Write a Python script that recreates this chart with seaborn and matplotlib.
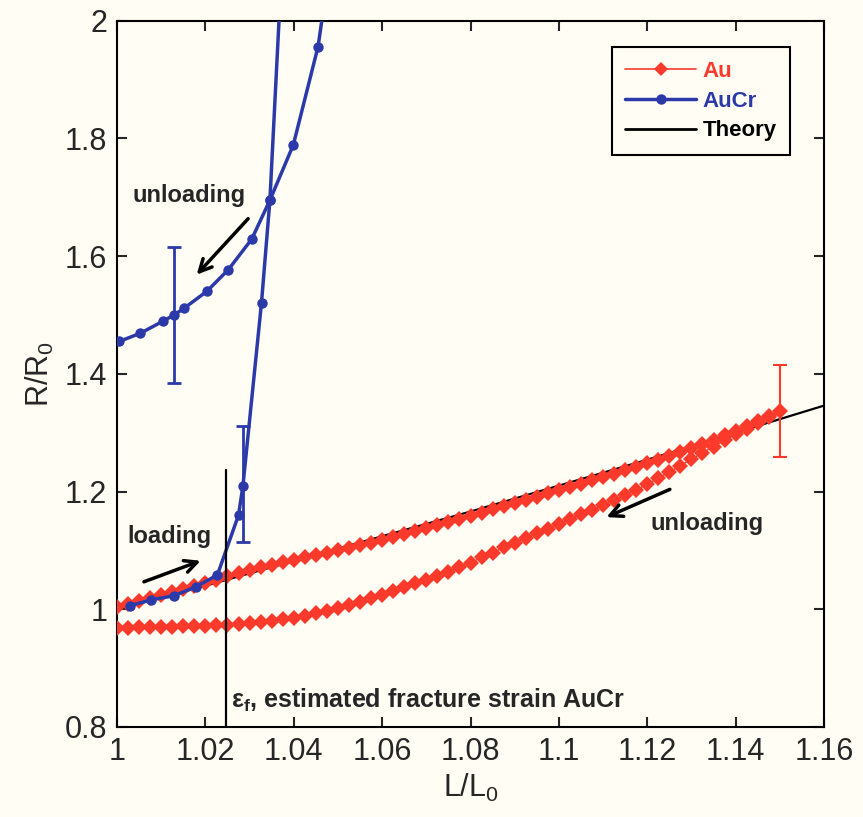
import numpy as np
import pandas as pd
import seaborn as sns
import matplotlib.pyplot as plt

# Au film: strain steps shared by the loading and unloading branch
au_strain = [1.0000, 1.0025, 1.0050, 1.0075, 1.0100, 1.0125, 1.0150, 1.0175, 1.0200, 1.0225,
             1.0250, 1.0275, 1.0300, 1.0325, 1.0350, 1.0375, 1.0400, 1.0425, 1.0450, 1.0475,
             1.0500, 1.0525, 1.0550, 1.0575, 1.0600, 1.0625, 1.0650, 1.0675, 1.0700, 1.0725,
             1.0750, 1.0775, 1.0800, 1.0825, 1.0850, 1.0875, 1.0900, 1.0925, 1.0950, 1.0975,
             1.1000, 1.1025, 1.1050, 1.1075, 1.1100, 1.1125, 1.1150, 1.1175, 1.1200, 1.1225,
             1.1250, 1.1275, 1.1300, 1.1325, 1.1350, 1.1375, 1.1400, 1.1425, 1.1450, 1.1475,
             1.1500]
au_loading = [1.004, 1.009, 1.014, 1.019, 1.024, 1.029, 1.035, 1.040, 1.045, 1.050,
              1.056, 1.061, 1.066, 1.071, 1.075, 1.080, 1.084, 1.088, 1.092, 1.096,
              1.100, 1.104, 1.109, 1.113, 1.118, 1.123, 1.128, 1.133, 1.138, 1.143,
              1.148, 1.154, 1.159, 1.164, 1.170, 1.175, 1.180, 1.186, 1.191, 1.197,
              1.202, 1.208, 1.213, 1.219, 1.224, 1.230, 1.236, 1.242, 1.248, 1.254,
              1.261, 1.268, 1.274, 1.281, 1.288, 1.296, 1.303, 1.311, 1.319, 1.328,
              1.336]
au_unloading = [0.968, 0.968, 0.969, 0.969, 0.970, 0.970, 0.971, 0.971, 0.972, 0.973,
                0.974, 0.975, 0.976, 0.978, 0.980, 0.983, 0.985, 0.989, 0.993, 0.997,
                1.002, 1.008, 1.013, 1.019, 1.025, 1.031, 1.037, 1.044, 1.050, 1.057,
                1.064, 1.072, 1.079, 1.088, 1.096, 1.105, 1.113, 1.121, 1.129, 1.137,
                1.145, 1.153, 1.161, 1.169, 1.177, 1.186, 1.194, 1.203, 1.212, 1.223,
                1.233, 1.244, 1.255, 1.266, 1.276, 1.287, 1.297, 1.307, 1.317, 1.326,
                1.336]

# AuCr film
aucr_load_strain = [1.0029, 1.0078, 1.0129, 1.0178, 1.0227, 1.0275, 1.0285, 1.0327, 1.0346, 1.0372]
aucr_load_r = [1.006, 1.016, 1.023, 1.038, 1.058, 1.160, 1.210, 1.521, 1.695, 2.080]
aucr_unload_strain = [1.0475, 1.0455, 1.0399, 1.0346, 1.0305, 1.0252, 1.0203, 1.0151,
                      1.0129, 1.0103, 1.0053, 1.0005]
aucr_unload_r = [2.060, 1.956, 1.789, 1.695, 1.629, 1.577, 1.540, 1.511, 1.500, 1.489, 1.469, 1.455]

# theory curve
theory_strain = [1.00, 1.02, 1.04, 1.06, 1.08, 1.10, 1.12, 1.14, 1.16]
theory_r = [1.000, 1.040, 1.082, 1.124, 1.166, 1.210, 1.254, 1.300, 1.346]

# error bars
err_strain = [1.0129, 1.0286, 1.1500]
err_r = [1.500, 1.213, 1.337]
err_half = [0.115, 0.098, 0.078]

fracture_strain = 1.0246
fracture_top = 1.237

bg = '#fffdf4'
red = '#fc3a2c'
blue = '#2b3aa8'

sns.set_style('ticks')
plt.rcParams['font.family'] = ['Liberation Sans', 'DejaVu Sans']
plt.rcParams['mathtext.fontset'] = 'custom'
plt.rcParams['mathtext.rm'] = 'Liberation Sans'
plt.rcParams['mathtext.it'] = 'Liberation Sans:italic'
plt.rcParams['mathtext.bf'] = 'Liberation Sans:bold'
plt.rcParams['mathtext.default'] = 'regular'

fig = plt.figure(figsize=(8.63, 8.17), dpi=100, facecolor=bg)
ax = fig.add_axes([0.1356, 0.1102, 0.8192, 0.8645], facecolor=bg)

theory = pd.DataFrame({'strain': theory_strain, 'r': theory_r})
sns.lineplot(data=theory, x='strain', y='r', sort=False, estimator=None, color='black', lw=1.6,
             ax=ax, zorder=2)

# Au: loading out to 1.15 then back
au = pd.DataFrame({'strain': au_strain + au_strain[::-1][1:],
                   'r': au_loading + au_unloading[::-1][1:]})
sns.lineplot(data=au, x='strain', y='r', sort=False, estimator=None, color=red, lw=1,
             marker='D', markersize=8, markeredgewidth=0, ax=ax, zorder=3)

aucr = pd.DataFrame({'strain': aucr_load_strain + aucr_unload_strain,
                     'r': aucr_load_r + aucr_unload_r,
                     'branch': ['load'] * len(aucr_load_strain) + ['unload'] * len(aucr_unload_strain)})
for b, d in aucr.groupby('branch'):
    sns.lineplot(data=d, x='strain', y='r', sort=False, estimator=None, color=blue, lw=2.5,
                 marker='o', markersize=7.5, markeredgewidth=0, ax=ax, zorder=4)

for xs, ys, e, c in zip(err_strain, err_r, err_half, [blue, blue, red]):
    ax.errorbar(xs, ys, yerr=e, fmt='none', ecolor=c, elinewidth=2 if c == blue else 1.5,
                capsize=5, capthick=2 if c == blue else 1.5, zorder=5)

ax.plot([fracture_strain, fracture_strain], [0.8, fracture_top], color='black', lw=1.6, zorder=6)

ax.set_xlim(1, 1.16)
ax.set_ylim(0.8, 2)
ax.set_xticks([1, 1.02, 1.04, 1.06, 1.08, 1.1, 1.12, 1.14, 1.16])
ax.set_xticklabels(['1', '1.02', '1.04', '1.06', '1.08', '1.1', '1.12', '1.14', '1.16'])
ax.set_yticks([0.8, 1, 1.2, 1.4, 1.6, 1.8, 2])
ax.set_yticklabels(['0.8', '1', '1.2', '1.4', '1.6', '1.8', '2'])
ax.tick_params(direction='in', length=7, width=1.5, labelsize=22, top=True, right=True, pad=7)
for s in ax.spines.values():
    s.set_linewidth(1.5)
    s.set_color('black')
ax.set_xlabel('L/L$_0$', fontsize=22, labelpad=4)
ax.set_ylabel('R/R$_0$', fontsize=22, labelpad=6)

arrow = dict(arrowstyle='->', lw=2.5, color='black', mutation_scale=22)
ax.annotate('', xy=(1.0195, 1.084), xytext=(1.0055, 1.045), arrowprops=arrow)
ax.annotate('', xy=(1.0176, 1.565), xytext=(1.0301, 1.667), arrowprops=arrow)
ax.annotate('', xy=(1.1102, 1.1546), xytext=(1.1257, 1.2056), arrowprops=arrow)
ax.text(1.0119, 1.124, 'loading', fontsize=17, fontweight='bold', ha='center', va='center')
ax.text(1.0163, 1.703, 'unloading', fontsize=17, fontweight='bold', ha='center', va='center')
ax.text(1.1335, 1.146, 'unloading', fontsize=17, fontweight='bold', ha='center', va='center')
ax.text(1.0258, 0.845, r'$\varepsilon_f$, estimated fracture strain AuCr', fontsize=18,
        fontweight='bold', ha='left', va='center')

handles = [plt.Line2D([], [], color=red, lw=1.2, marker='D', markersize=7, markeredgewidth=0),
           plt.Line2D([], [], color=blue, lw=2.5, marker='o', markersize=7.5, markeredgewidth=0),
           plt.Line2D([], [], color='black', lw=2)]
leg = ax.legend(handles, ['Au', 'AuCr', 'Theory'], loc='upper right', bbox_to_anchor=(0.968, 0.978),
                fancybox=False, edgecolor='black', facecolor=bg, framealpha=1,
                prop={'weight': 'bold', 'size': 16}, handlelength=3.2, labelspacing=0.4,
                borderpad=0.6, handletextpad=0.3)
leg.get_frame().set_linewidth(1.5)
for t, c in zip(leg.get_texts(), [red, blue, 'black']):
    t.set_color(c)

fig.savefig('out.png', dpi=100, facecolor=bg)
